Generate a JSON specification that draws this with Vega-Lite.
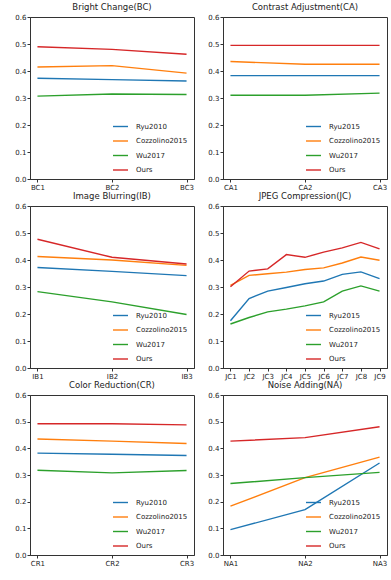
{
  "$schema": "https://vega.github.io/schema/vega-lite/v6.json",
  "padding": {"left": 14, "top": 2, "right": 0, "bottom": 0},
  "background": "white",
  "config": {
    "font": "DejaVu Sans",
    "view": {"stroke": "#333", "strokeWidth": 1},
    "axis": {"grid": false, "labelFontSize": 7, "labelColor": "#222", "tickColor": "#333", "domainColor": "#333", "tickSize": 3, "labelPadding": 1, "title": null},
    "title": {"fontSize": 8.5, "fontWeight": "normal", "color": "#222", "offset": 2},
    "legend": {"orient": "bottom-right", "title": null, "labelFontSize": 7, "labelColor": "#222", "symbolType": "stroke", "symbolSize": 225, "symbolStrokeWidth": 1.6, "rowPadding": 2.5, "labelOffset": 7, "offset": 4, "padding": 2, "labelLimit": 200},
    "line": {"strokeWidth": 1.4},
    "concat": {"spacing": 12}
  },
  "datasets": {
    "d": [
      {"attack": "BC", "level": "BC1", "method": "Ryu2010", "value": 0.373},
      {"attack": "BC", "level": "BC2", "method": "Ryu2010", "value": 0.368},
      {"attack": "BC", "level": "BC3", "method": "Ryu2010", "value": 0.363},
      {"attack": "BC", "level": "BC1", "method": "Cozzolino2015", "value": 0.415},
      {"attack": "BC", "level": "BC2", "method": "Cozzolino2015", "value": 0.42},
      {"attack": "BC", "level": "BC3", "method": "Cozzolino2015", "value": 0.392},
      {"attack": "BC", "level": "BC1", "method": "Wu2017", "value": 0.307},
      {"attack": "BC", "level": "BC2", "method": "Wu2017", "value": 0.315},
      {"attack": "BC", "level": "BC3", "method": "Wu2017", "value": 0.313},
      {"attack": "BC", "level": "BC1", "method": "Ours", "value": 0.49},
      {"attack": "BC", "level": "BC2", "method": "Ours", "value": 0.48},
      {"attack": "BC", "level": "BC3", "method": "Ours", "value": 0.462},

      {"attack": "CA", "level": "CA1", "method": "Ryu2015", "value": 0.383},
      {"attack": "CA", "level": "CA2", "method": "Ryu2015", "value": 0.383},
      {"attack": "CA", "level": "CA3", "method": "Ryu2015", "value": 0.383},
      {"attack": "CA", "level": "CA1", "method": "Cozzolino2015", "value": 0.435},
      {"attack": "CA", "level": "CA2", "method": "Cozzolino2015", "value": 0.425},
      {"attack": "CA", "level": "CA3", "method": "Cozzolino2015", "value": 0.425},
      {"attack": "CA", "level": "CA1", "method": "Wu2017", "value": 0.31},
      {"attack": "CA", "level": "CA2", "method": "Wu2017", "value": 0.31},
      {"attack": "CA", "level": "CA3", "method": "Wu2017", "value": 0.318},
      {"attack": "CA", "level": "CA1", "method": "Ours", "value": 0.495},
      {"attack": "CA", "level": "CA2", "method": "Ours", "value": 0.495},
      {"attack": "CA", "level": "CA3", "method": "Ours", "value": 0.495},

      {"attack": "IB", "level": "IB1", "method": "Ryu2010", "value": 0.372},
      {"attack": "IB", "level": "IB2", "method": "Ryu2010", "value": 0.358},
      {"attack": "IB", "level": "IB3", "method": "Ryu2010", "value": 0.342},
      {"attack": "IB", "level": "IB1", "method": "Cozzolino2015", "value": 0.413},
      {"attack": "IB", "level": "IB2", "method": "Cozzolino2015", "value": 0.4},
      {"attack": "IB", "level": "IB3", "method": "Cozzolino2015", "value": 0.38},
      {"attack": "IB", "level": "IB1", "method": "Wu2017", "value": 0.283},
      {"attack": "IB", "level": "IB2", "method": "Wu2017", "value": 0.245},
      {"attack": "IB", "level": "IB3", "method": "Wu2017", "value": 0.198},
      {"attack": "IB", "level": "IB1", "method": "Ours", "value": 0.477},
      {"attack": "IB", "level": "IB2", "method": "Ours", "value": 0.41},
      {"attack": "IB", "level": "IB3", "method": "Ours", "value": 0.385},

      {"attack": "JC", "level": "JC1", "method": "Ryu2015", "value": 0.175},
      {"attack": "JC", "level": "JC2", "method": "Ryu2015", "value": 0.257},
      {"attack": "JC", "level": "JC3", "method": "Ryu2015", "value": 0.285},
      {"attack": "JC", "level": "JC4", "method": "Ryu2015", "value": 0.298},
      {"attack": "JC", "level": "JC5", "method": "Ryu2015", "value": 0.312},
      {"attack": "JC", "level": "JC6", "method": "Ryu2015", "value": 0.322},
      {"attack": "JC", "level": "JC7", "method": "Ryu2015", "value": 0.347},
      {"attack": "JC", "level": "JC8", "method": "Ryu2015", "value": 0.356},
      {"attack": "JC", "level": "JC9", "method": "Ryu2015", "value": 0.331},
      {"attack": "JC", "level": "JC1", "method": "Cozzolino2015", "value": 0.306},
      {"attack": "JC", "level": "JC2", "method": "Cozzolino2015", "value": 0.343},
      {"attack": "JC", "level": "JC3", "method": "Cozzolino2015", "value": 0.349},
      {"attack": "JC", "level": "JC4", "method": "Cozzolino2015", "value": 0.355},
      {"attack": "JC", "level": "JC5", "method": "Cozzolino2015", "value": 0.365},
      {"attack": "JC", "level": "JC6", "method": "Cozzolino2015", "value": 0.371},
      {"attack": "JC", "level": "JC7", "method": "Cozzolino2015", "value": 0.389},
      {"attack": "JC", "level": "JC8", "method": "Cozzolino2015", "value": 0.411},
      {"attack": "JC", "level": "JC9", "method": "Cozzolino2015", "value": 0.399},
      {"attack": "JC", "level": "JC1", "method": "Wu2017", "value": 0.163},
      {"attack": "JC", "level": "JC2", "method": "Wu2017", "value": 0.187},
      {"attack": "JC", "level": "JC3", "method": "Wu2017", "value": 0.208},
      {"attack": "JC", "level": "JC4", "method": "Wu2017", "value": 0.218},
      {"attack": "JC", "level": "JC5", "method": "Wu2017", "value": 0.23},
      {"attack": "JC", "level": "JC6", "method": "Wu2017", "value": 0.245},
      {"attack": "JC", "level": "JC7", "method": "Wu2017", "value": 0.285},
      {"attack": "JC", "level": "JC8", "method": "Wu2017", "value": 0.304},
      {"attack": "JC", "level": "JC9", "method": "Wu2017", "value": 0.285},
      {"attack": "JC", "level": "JC1", "method": "Ours", "value": 0.301},
      {"attack": "JC", "level": "JC2", "method": "Ours", "value": 0.359},
      {"attack": "JC", "level": "JC3", "method": "Ours", "value": 0.367},
      {"attack": "JC", "level": "JC4", "method": "Ours", "value": 0.42},
      {"attack": "JC", "level": "JC5", "method": "Ours", "value": 0.41},
      {"attack": "JC", "level": "JC6", "method": "Ours", "value": 0.429},
      {"attack": "JC", "level": "JC7", "method": "Ours", "value": 0.445},
      {"attack": "JC", "level": "JC8", "method": "Ours", "value": 0.465},
      {"attack": "JC", "level": "JC9", "method": "Ours", "value": 0.441},

      {"attack": "CR", "level": "CR1", "method": "Ryu2010", "value": 0.382},
      {"attack": "CR", "level": "CR2", "method": "Ryu2010", "value": 0.378},
      {"attack": "CR", "level": "CR3", "method": "Ryu2010", "value": 0.373},
      {"attack": "CR", "level": "CR1", "method": "Cozzolino2015", "value": 0.435},
      {"attack": "CR", "level": "CR2", "method": "Cozzolino2015", "value": 0.427},
      {"attack": "CR", "level": "CR3", "method": "Cozzolino2015", "value": 0.418},
      {"attack": "CR", "level": "CR1", "method": "Wu2017", "value": 0.318},
      {"attack": "CR", "level": "CR2", "method": "Wu2017", "value": 0.308},
      {"attack": "CR", "level": "CR3", "method": "Wu2017", "value": 0.317},
      {"attack": "CR", "level": "CR1", "method": "Ours", "value": 0.492},
      {"attack": "CR", "level": "CR2", "method": "Ours", "value": 0.492},
      {"attack": "CR", "level": "CR3", "method": "Ours", "value": 0.488},

      {"attack": "NA", "level": "NA1", "method": "Ryu2015", "value": 0.095},
      {"attack": "NA", "level": "NA2", "method": "Ryu2015", "value": 0.17},
      {"attack": "NA", "level": "NA3", "method": "Ryu2015", "value": 0.345},
      {"attack": "NA", "level": "NA1", "method": "Cozzolino2015", "value": 0.183},
      {"attack": "NA", "level": "NA2", "method": "Cozzolino2015", "value": 0.29},
      {"attack": "NA", "level": "NA3", "method": "Cozzolino2015", "value": 0.367},
      {"attack": "NA", "level": "NA1", "method": "Wu2017", "value": 0.268},
      {"attack": "NA", "level": "NA2", "method": "Wu2017", "value": 0.29},
      {"attack": "NA", "level": "NA3", "method": "Wu2017", "value": 0.31},
      {"attack": "NA", "level": "NA1", "method": "Ours", "value": 0.427},
      {"attack": "NA", "level": "NA2", "method": "Ours", "value": 0.44},
      {"attack": "NA", "level": "NA3", "method": "Ours", "value": 0.481}
    ]
  },
  "data": {"name": "d"},
  "spacing": 0,
  "resolve": {"scale": {"color": "independent", "x": "independent"}, "legend": {"color": "independent"}},
  "vconcat": [
    {
      "resolve": {"scale": {"color": "independent", "x": "independent"}, "legend": {"color": "independent"}},
      "hconcat": [
        {
          "width": 164, "height": 162,
          "title": "Bright Change(BC)",
          "transform": [{"filter": "datum.attack === 'BC'"}],
          "mark": {"type": "line"},
          "encoding": {
            "x": {"field": "level", "type": "ordinal", "scale": {"type": "point", "padding": 0.1}, "axis": {"labelAngle": 0}},
            "y": {"field": "value", "type": "quantitative", "scale": {"domain": [0, 0.6], "nice": false}, "axis": {"values": [0, 0.1, 0.2, 0.3, 0.4, 0.5, 0.6], "format": ".1f"}},
            "color": {"field": "method", "type": "nominal", "scale": {"domain": ["Ryu2010", "Cozzolino2015", "Wu2017", "Ours"], "range": ["#1f77b4", "#ff7f0e", "#2ca02c", "#d62728"]}}
          }
        },
        {
          "width": 164, "height": 162,
          "title": "Contrast Adjustment(CA)",
          "transform": [{"filter": "datum.attack === 'CA'"}],
          "mark": {"type": "line"},
          "encoding": {
            "x": {"field": "level", "type": "ordinal", "scale": {"type": "point", "padding": 0.1}, "axis": {"labelAngle": 0}},
            "y": {"field": "value", "type": "quantitative", "scale": {"domain": [0, 0.6], "nice": false}, "axis": {"values": [0, 0.1, 0.2, 0.3, 0.4, 0.5, 0.6], "format": ".1f"}},
            "color": {"field": "method", "type": "nominal", "scale": {"domain": ["Ryu2015", "Cozzolino2015", "Wu2017", "Ours"], "range": ["#1f77b4", "#ff7f0e", "#2ca02c", "#d62728"]}}
          }
        }
      ]
    },
    {
      "resolve": {"scale": {"color": "independent", "x": "independent"}, "legend": {"color": "independent"}},
      "hconcat": [
        {
          "width": 164, "height": 162,
          "title": "Image Blurring(IB)",
          "transform": [{"filter": "datum.attack === 'IB'"}],
          "mark": {"type": "line"},
          "encoding": {
            "x": {"field": "level", "type": "ordinal", "scale": {"type": "point", "padding": 0.1}, "axis": {"labelAngle": 0}},
            "y": {"field": "value", "type": "quantitative", "scale": {"domain": [0, 0.6], "nice": false}, "axis": {"values": [0, 0.1, 0.2, 0.3, 0.4, 0.5, 0.6], "format": ".1f"}},
            "color": {"field": "method", "type": "nominal", "scale": {"domain": ["Ryu2010", "Cozzolino2015", "Wu2017", "Ours"], "range": ["#1f77b4", "#ff7f0e", "#2ca02c", "#d62728"]}}
          }
        },
        {
          "width": 164, "height": 162,
          "title": "JPEG Compression(JC)",
          "transform": [{"filter": "datum.attack === 'JC'"}],
          "mark": {"type": "line"},
          "encoding": {
            "x": {"field": "level", "type": "ordinal", "scale": {"type": "point", "padding": 0.4}, "axis": {"labelAngle": 0}},
            "y": {"field": "value", "type": "quantitative", "scale": {"domain": [0, 0.6], "nice": false}, "axis": {"values": [0, 0.1, 0.2, 0.3, 0.4, 0.5, 0.6], "format": ".1f"}},
            "color": {"field": "method", "type": "nominal", "scale": {"domain": ["Ryu2015", "Cozzolino2015", "Wu2017", "Ours"], "range": ["#1f77b4", "#ff7f0e", "#2ca02c", "#d62728"]}}
          }
        }
      ]
    },
    {
      "resolve": {"scale": {"color": "independent", "x": "independent"}, "legend": {"color": "independent"}},
      "hconcat": [
        {
          "width": 164, "height": 160,
          "title": "Color Reduction(CR)",
          "transform": [{"filter": "datum.attack === 'CR'"}],
          "mark": {"type": "line"},
          "encoding": {
            "x": {"field": "level", "type": "ordinal", "scale": {"type": "point", "padding": 0.1}, "axis": {"labelAngle": 0}},
            "y": {"field": "value", "type": "quantitative", "scale": {"domain": [0, 0.6], "nice": false}, "axis": {"values": [0, 0.1, 0.2, 0.3, 0.4, 0.5, 0.6], "format": ".1f"}},
            "color": {"field": "method", "type": "nominal", "scale": {"domain": ["Ryu2010", "Cozzolino2015", "Wu2017", "Ours"], "range": ["#1f77b4", "#ff7f0e", "#2ca02c", "#d62728"]}}
          }
        },
        {
          "width": 164, "height": 160,
          "title": "Noise Adding(NA)",
          "transform": [{"filter": "datum.attack === 'NA'"}],
          "mark": {"type": "line"},
          "encoding": {
            "x": {"field": "level", "type": "ordinal", "scale": {"type": "point", "padding": 0.1}, "axis": {"labelAngle": 0}},
            "y": {"field": "value", "type": "quantitative", "scale": {"domain": [0, 0.6], "nice": false}, "axis": {"values": [0, 0.1, 0.2, 0.3, 0.4, 0.5, 0.6], "format": ".1f"}},
            "color": {"field": "method", "type": "nominal", "scale": {"domain": ["Ryu2015", "Cozzolino2015", "Wu2017", "Ours"], "range": ["#1f77b4", "#ff7f0e", "#2ca02c", "#d62728"]}}
          }
        }
      ]
    }
  ]
}
